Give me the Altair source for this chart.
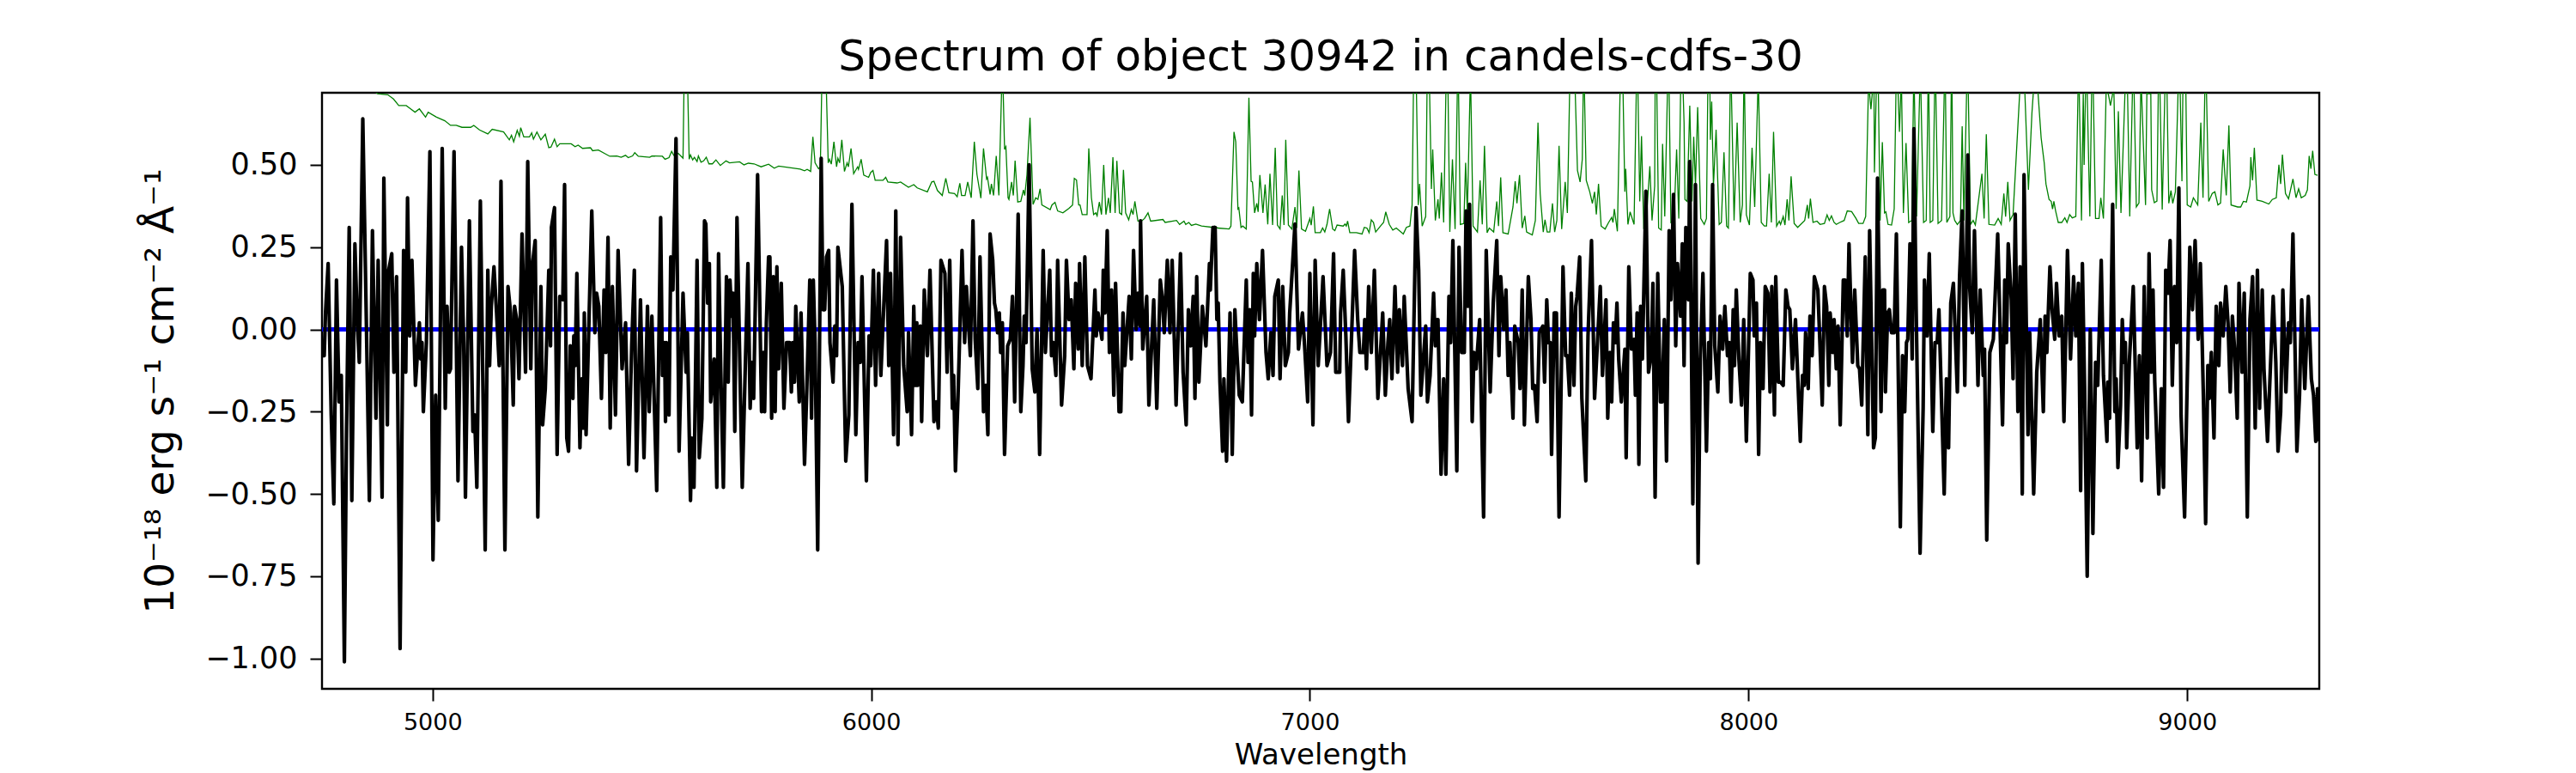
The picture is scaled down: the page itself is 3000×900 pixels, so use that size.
import altair as alt
import pandas as pd

# (wavelength in Angstrom, flux in 1e-18 erg/s/cm2/A)
black_points = [
(4748,-.08),(4753,-.08),(4756,.05),(4762,.20),(4769,-.26),(4775,-.53),(4781,.15),(4787,-.22),(4792,-.14),(4799,-1.01),(4804,-.30),(4810,.31),(4816,-.52),(4823,.26),(4828,.04),(4833,-.10),(4841,.64),(4849,.03),(4856,-.52),(4863,.30),(4871,-.27),(4876,.21),(4885,-.51),(4889,.46),(4897,-.29),(4900,.18),(4907,.23),(4912,-.13),(4918,.16),(4926,-.97),(4934,.24),(4939,-.13),(4943,.40),(4948,-.02),(4953,.21),(4961,-.17),(4970,.02),(4973,-.09),(4976,-.04),(4979,-.25),(4986,-.04),(4994,.54),(5001,-.70),(5007,-.20),(5013,-.58),(5022,.55),(5029,-.24),(5033,.07),(5038,-.13),(5041,-.12),(5049,.54),(5058,-.46),(5066,.25),(5071,-.04),(5075,-.51),(5084,.33),(5092,-.31),(5096,-.26),(5101,-.48),(5109,.39),(5120,-.67),(5126,.18),(5130,-.11),(5134,.07),(5140,.19),(5146,.05),(5152,-.11),(5156,.45),(5165,-.67),(5172,.13),(5178,.05),(5184,-.23),(5187,.07),(5193,.02),(5197,-.15),(5204,.29),(5212,-.13),(5217,.51),(5224,-.12),(5228,.20),(5234,.27),(5240,-.57),(5247,.13),(5251,-.29),(5257,-.18),
(5265,.18),(5269,-.05),(5271,.31),(5278,.37),(5284,-.38),(5290,.10),(5297,.09),(5301,.44),(5306,-.33),(5310,-.37),(5314,-.05),(5320,-.21),(5322,-.02),(5325,-.11),(5329,.17),(5336,-.36),(5340,-.15),(5344,-.30),(5346,.05),(5350,-.32),(5363,.36),(5370,-.01),(5374,.11),(5379,.07),(5385,-.21),(5391,.12),(5395,-.07),(5400,.28),(5405,-.30),(5410,.13),(5417,-.26),(5423,.24),(5432,-.12),(5440,.02),(5447,-.41),(5454,-.05),(5460,.18),(5465,-.43),(5474,.09),(5482,-.39),(5490,.07),(5494,-.25),(5500,.04),(5511,-.49),(5520,.34),(5524,-.14),(5529,-.04),(5531,-.28),(5533,-.04),(5539,-.26),(5543,.22),(5548,.12),(5555,.58),(5562,-.37),(5571,.11),(5578,-.13),(5581,-.01),(5588,-.52),(5591,-.33),(5596,-.48),(5603,.21),(5608,-.39),(5614,-.27),(5620,.33),(5623,.32),(5627,.08),(5631,.20),(5634,-.22),(5642,-.09),(5648,-.48),(5652,.23),(5657,-.12),(5663,-.48),(5670,.16),(5674,-.16),(5678,.15),(5682,.04),(5685,.11),(5689,-.31),(5694,.34),(5706,-.48),(5713,-.11),(5719,.20),(5724,-.24),(5728,-.10),(5732,-.21),(5741,.47),(5750,-.25),(5754,-.07),(5757,-.25),(5761,.02),(5766,.22),
(5769,.22),(5773,-.27),(5777,.16),(5781,-.25),(5785,.19),(5789,-.12),(5795,.14),(5801,-.24),(5807,-.04),(5814,-.04),(5818,-.19),(5821,-.04),(5825,-.16),(5828,.07),(5836,-.22),(5840,.05),(5848,-.41),(5853,-.19),(5860,.15),(5864,-.27),(5868,.15),(5872,-.04),(5878,-.67),(5886,.52),(5890,.06),(5894,.06),(5898,.22),(5903,.24),(5906,-.04),(5913,-.16),(5917,.01),(5921,-.08),(5924,.25),(5934,.13),(5942,-.40),(5949,-.26),(5956,.38),(5965,-.32),(5970,-.04),(5975,-.10),(5979,.16),(5989,-.46),(5995,-.02),(5999,-.11),(6005,.18),(6010,-.17),(6017,.17),(6022,-.14),(6028,.05),(6035,.27),(6040,-.11),(6044,.17),(6051,-.32),(6056,.36),(6061,-.35),(6067,.28),(6074,-.11),(6082,-.25),(6085,-.01),(6092,-.32),(6097,.07),(6101,-.17),(6104,.02),(6106,-.17),(6112,.01),(6115,-.28),(6121,.12),(6128,-.08),(6134,.18),(6143,-.28),(6148,-.22),(6153,-.30),(6159,.21),(6168,.17),(6173,-.13),(6179,.21),(6185,-.24),(6188,-.14),(6192,-.43),(6198,-.20),(6207,.24),(6213,-.04),(6217,.13),(6226,-.08),(6232,.33),(6237,-.03),(6243,-.18),(6248,.22),(6256,-.25),(6261,-.17),(6266,-.32),(6271,.29),
(6277,.21),(6281,.08),(6284,.06),(6288,-.01),(6292,.05),(6295,-.07),(6299,.02),(6304,-.38),(6311,-.05),(6317,-.03),(6322,.10),(6327,-.22),(6335,.35),(6341,-.25),(6346,-.11),(6349,.04),(6353,-.04),(6360,.50),(6367,-.12),(6373,-.19),(6378,0),(6384,-.38),(6392,.24),(6397,-.07),(6407,.18),(6411,-.08),(6415,-.04),(6421,-.14),(6425,.21),(6434,-.23),(6441,-.08),(6445,.21),(6451,.03),(6456,.09),(6462,-.12),(6466,.14),(6472,-.06),(6475,.20),(6481,-.11),(6487,.22),(6493,-.11),(6501,-.15),(6510,.12),(6513,-.02),(6517,.05),(6526,-.03),(6529,.18),(6533,.05),(6538,.30),(6543,-.07),(6548,.12),(6553,-.20),(6557,.14),(6565,-.25),(6569,-.25),(6574,.05),(6578,-.11),(6588,.10),(6593,-.09),(6598,.24),(6604,0),(6608,.11),(6613,.01),(6614,.33),(6619,-.06),(6628,.10),(6633,-.23),(6644,.09),(6651,-.24),(6659,.15),(6664,.09),(6668,-.01),(6675,.21),(6681,-.01),(6686,.21),(6695,-.23),(6705,.23),(6711,-.13),(6718,-.29),(6723,.06),(6728,-.05),(6734,.10),(6738,-.21),(6742,.16),(6747,-.16),(6755,.07),(6763,-.05),(6771,.20),(6773,.12),(6779,.31),(6784,.31),
(6788,.03),(6791,.08),(6795,-.16),(6801,-.37),(6804,-.15),(6810,-.40),(6818,.05),(6823,-.38),(6829,.06),(6834,-.08),(6839,-.20),(6846,-.22),(6855,.15),(6859,-.10),(6863,.06),(6867,-.26),(6871,.17),(6874,-.02),(6879,.20),(6885,.03),(6892,.24),(6900,-.07),(6905,-.15),(6911,-.01),(6916,-.14),(6920,.10),(6928,.15),(6932,-.15),(6938,.13),(6944,-.11),(6951,-.07),(6954,.05),(6966,.32),(6974,-.06),(6983,.05),(6988,-.05),(6995,-.22),(7000,.17),(7007,-.29),(7012,.21),(7019,-.11),(7030,.16),(7039,-.11),(7047,-.07),(7054,.23),(7059,-.13),(7068,-.13),(7070,.05),(7076,.18),(7082,-.02),(7088,-.28),(7102,.24),(7109,.03),(7114,-.07),(7122,-.07),(7125,.03),(7129,-.12),(7134,.13),(7140,-.07),(7147,.18),(7155,-.21),(7166,.05),(7172,-.20),(7178,-.04),(7182,.03),(7187,-.15),(7194,.13),(7200,-.13),(7204,.06),(7211,-.11),(7215,.10),(7224,-.18),(7233,-.28),(7242,.37),(7248,.18),(7253,-.20),(7264,.01),(7268,-.22),(7274,-.14),(7282,.11),(7286,-.05),(7290,.03),
(7292,.03),(7299,-.44),(7305,-.15),(7310,-.44),(7317,.10),(7321,-.04),(7326,.27),(7335,-.43),(7340,.25),(7346,-.07),(7352,-.07),(7356,.36),(7360,.07),(7364,.38),(7370,-.28),(7374,-.07),(7379,-.12),(7387,.03),(7396,-.57),(7402,.24),(7411,-.19),(7418,.08),(7426,.27),(7431,-.08),(7435,.16),(7442,0),(7447,.12),(7452,-.14),(7456,-.04),(7463,-.27),(7467,.01),(7475,-.04),(7479,-.18),(7484,.12),(7489,-.29),(7498,.16),(7504,.03),(7508,-.18),(7512,-.17),(7518,-.28),(7523,-.01),(7531,.01),(7535,-.16),(7540,.09),(7544,-.04),(7548,-.04),(7551,-.38),(7557,.05),(7562,.05),(7568,-.57),(7577,.19),(7583,-.08),(7587,-.08),(7592,-.20),(7596,.11),(7602,-.17),(7606,.07),(7609,.10),(7615,.22),(7620,-.21),(7629,-.46),(7634,-.02),(7642,.27),(7649,-.21),(7654,-.08),(7662,.13),(7667,-.14),(7675,.09),(7679,-.27),(7684,-.07),(7688,-.22),(7692,.02),(7696,-.04),(7700,.08),(7704,-.09),(7710,-.22),(7718,-.06),(7721,-.39),(7727,.19),(7733,-.06),(7739,-.03),(7742,-.20),(7746,.05),(7750,-.41),(7754,.07),(7758,-.09),(7766,.42),(7772,-.13),(7778,-.08),(7782,.14),(7787,-.51),(7793,.17),(7799,-.22),
(7803,-.22),(7808,.03),(7813,-.40),(7819,.30),(7823,.09),(7829,.41),(7834,-.05),(7838,.20),(7845,.04),(7849,.26),(7853,-.11),(7857,.31),(7863,.09),(7866,.51),(7873,-.53),(7879,.44),(7885,-.71),(7890,-.09),(7896,.17),(7904,-.37),(7909,-.04),(7913,-.15),(7918,.44),(7923,-.05),(7930,-.19),(7935,.04),(7941,-.06),(7946,.07),(7952,-.08),(7956,-.04),(7960,-.22),(7965,.06),(7968,-.11),(7972,.12),(7978,-.09),(7984,-.23),(7989,.03),(7995,-.34),(8004,.17),(8010,.15),(8013,-.02),(8018,.08),(8023,-.38),(8027,-.04),(8033,-.18),(8038,.13),(8044,.11),(8049,-.19),(8053,.13),(8059,-.26),(8062,.16),(8068,-.16),(8073,-.16),(8079,-.17),(8085,.12),(8090,.07),(8094,.06),(8100,-.12),(8107,.03),(8118,-.34),(8123,-.14),(8127,-.17),(8130,-.01),(8136,-.18),(8140,.04),(8145,-.08),(8150,.16),(8158,.12),(8168,-.23),(8173,.13),(8178,.07),(8183,-.17),(8186,.05),(8192,-.07),(8195,.03),(8200,-.12),(8204,.01),(8209,-.29),(8216,.15),(8220,.15),(8225,-.02),(8229,.26),(8237,-.10),(8242,.12),(8249,-.11),(8253,-.12),(8258,-.23),(8266,.22),(8272,-.32),(8276,.30),(8285,-.36),(8289,-.33),(8294,.46),(8302,-.25),(8306,.12),
(8310,.12),(8312,-.19),(8317,.05),(8321,.06),(8326,-.01),(8332,-.01),(8337,.29),(8346,-.60),(8351,-.08),(8356,-.25),(8360,-.04),(8363,-.03),(8368,.26),(8373,-.09),(8377,.61),(8382,.07),(8391,-.68),(8398,-.24),(8401,.15),(8407,-.02),(8412,.23),(8420,-.31),(8425,-.04),(8430,-.04),(8434,.06),(8446,-.50),(8451,-.15),(8456,-.36),(8461,.08),(8467,.14),(8476,-.19),(8481,.16),(8487,.36),(8493,-.17),(8500,.53),(8504,.13),(8510,-.01),(8515,.30),(8523,-.17),(8528,.12),(8535,-.14),(8538,-.06),(8543,-.64),(8550,-.07),(8558,-.03),(8568,.29),(8579,-.29),(8584,.15),(8588,-.04),(8592,.26),(8599,.09),(8603,-.15),(8608,.35),(8614,-.25),(8619,.19),(8624,-.50),(8628,.47),(8637,-.32),(8641,-.01),(8650,-.50),(8657,-.13),(8665,.03),(8672,-.25),(8676,.04),(8680,-.07),(8687,.19),(8692,.06),(8698,-.03),(8702,.14),(8708,-.02),(8714,.04),(8719,-.28),(8727,.24),(8734,-.09),(8741,.16),(8746,-.02),(8752,.14),(8757,-.49),(8761,.20),(8766,-.17),(8772,-.75),(8779,0),(8785,-.62),(8791,-.10),(8796,-.17),(8804,.21),(8809,-.14),(8817,-.34),
(8819,-.16),(8823,-.27),(8830,.38),(8835,-.25),(8838,-.15),(8842,-.42),(8848,-.23),(8852,.03),(8856,-.10),(8859,-.04),(8862,-.36),(8868,-.10),(8877,.13),(8886,-.36),(8891,-.08),(8896,-.46),(8902,.13),(8909,-.33),(8913,.23),(8918,-.13),(8922,.12),(8926,-.16),(8935,-.50),(8941,-.18),(8946,-.48),(8951,.18),(8956,.11),(8961,.27),(8966,-.17),(8971,.13),(8976,-.04),(8981,.43),(8986,-.26),(8994,-.57),(9006,.25),(9012,.06),(9018,.27),(9025,-.03),(9030,.20),(9037,-.21),(9042,-.59),(9047,-.11),(9050,-.21),(9055,-.07),(9061,-.33),(9066,.07),(9072,-.11),(9076,.08),(9082,-.02),(9088,.13),(9093,.02),(9098,-.19),(9103,.04),(9108,-.06),(9114,-.27),(9118,.14),(9125,-.13),(9130,.11),(9137,-.57),(9143,.03),(9149,.16),(9155,-.30),(9160,.18),(9165,-.24),(9171,.12),(9175,-.12),(9183,-.34),(9196,.10),(9202,-.10),(9207,-.37),(9213,-.25),(9218,.12),(9225,-.19),(9231,.02),(9235,-.04),(9241,.29),(9250,-.37),(9256,-.20),(9261,.09),(9268,-.18),(9276,.10),(9283,-.15),(9288,-.20),(9293,-.34),(9297,-.18),(9299,-.34),
]

# contamination / error trace, peaks leave the top of the plot
green_points = [
(4748,.85),(4813,.78),(4875,.716),(4898,.713),(4911,.70),(4923,.68),(4940,.68),(4950,.67),(4960,.66),(4970,.67),(4984,.645),(4990,.66),(5009,.645),(5028,.634),(5041,.62),(5054,.62),(5067,.614),(5087,.614),(5094,.62),(5107,.606),(5126,.594),(5136,.608),(5162,.60),(5175,.576),(5180,.59),(5185,.57),(5193,.605),(5198,.587),(5201,.613),(5208,.585),(5221,.585),(5226,.597),(5230,.578),(5238,.60),(5247,.576),(5257,.593),
(5265,.552),(5270,.554),(5278,.578),(5284,.555),(5290,.564),(5316,.564),(5325,.555),(5332,.56),(5342,.55),(5360,.552),(5365,.543),(5378,.545),(5404,.526),(5420,.527),(5430,.523),(5440,.529),(5446,.522),(5456,.527),(5461,.537),(5469,.526),(5495,.523),(5500,.527),(5524,.526),(5530,.517),(5539,.522),(5545,.541),(5550,.529),(5560,.535),(5571,.52),(5573,.716),(5575,.9),(5578,.9),(5582,.716),(5585,.517),(5588,.53),(5593,.515),(5597,.523),(5603,.51),(5606,.527),(5612,.508),(5618,.512),(5624,.523),(5630,.503),(5638,.503),(5646,.515),(5656,.498),(5669,.512),(5677,.506),(5700,.509),(5710,.50),(5720,.505),(5733,.503),(5749,.494),(5766,.502),
(5779,.49),(5789,.496),(5838,.487),(5848,.482),(5854,.486),(5862,.48),(5867,.585),(5872,.506),(5880,.488),(5884,.494),(5887,.716),(5890,.9),(5895,.9),(5898,.716),(5902,.506),(5905,.517),(5909,.502),(5915,.57),(5921,.494),(5924,.52),(5928,.506),(5933,.576),(5939,.48),(5945,.506),(5948,.494),(5954,.55),(5960,.473),(5969,.494),(5971,.486),(5977,.517),(5983,.469),(5994,.462),(5999,.477),(6004,.483),(6009,.453),(6027,.453),(6033,.462),(6038,.448),(6059,.445),(6067,.448),(6085,.432),(6097,.44),(6105,.43),(6128,.418),(6138,.448),(6143,.45),(6151,.422),(6162,.407),(6170,.459),(6177,.415),(6190,.413),(6196,.403),(6202,.444),(6206,.407),(6214,.407),(6220,.448),(6228,.40),(6235,.57),(6241,.471),(6250,.399),(6256,.55),(6263,.457),(6265,.462),(6271,.41),(6274,.442),
(6279,.407),(6285,.527),(6291,.407),(6297,.716),(6299,.9),(6300,.9),(6301,.716),(6304,.547),(6307,.555),(6312,.40),(6314,.395),(6320,.448),(6324,.407),(6328,.513),(6334,.387),(6341,.389),(6347,.424),(6350,.407),(6355,.469),(6362,.643),(6369,.38),(6375,.40),(6380,.395),(6385,.427),(6389,.378),(6408,.364),(6412,.378),(6419,.386),(6425,.36),(6437,.354),(6451,.368),(6459,.378),(6463,.459),(6468,.454),(6473,.378),(6476,.378),(6481,.349),(6492,.349),(6496,.55),(6502,.40),(6507,.349),(6512,.354),(6515,.345),(6520,.387),(6525,.349),(6530,.50),(6535,.349),(6541,.40),(6545,.354),(6551,.523),(6556,.354),(6560,.512),(6566,.354),(6571,.349),(6575,.485),(6580,.354),(6587,.333),(6593,.364),(6597,.349),(6601,.389),(6608,.329),(6616,.329),(6623,.337),(6631,.354),(6637,.329),(6665,.334),(6670,.325),(6696,.331),(6703,.319),(6713,.329),(6717,.319),(6724,.325),(6730,.316),(6740,.32),(6753,.314),(6779,.31),
(6783,.314),(6790,.308),(6816,.305),(6820,.314),(6827,.60),(6831,.57),(6836,.366),(6838,.369),(6843,.31),(6847,.314),(6855,.305),(6861,.704),(6866,.45),(6869,.448),(6874,.354),(6879,.383),(6882,.357),(6886,.469),(6893,.354),(6898,.44),(6904,.319),(6909,.473),(6915,.317),(6921,.552),(6926,.317),(6932,.305),(6937,.407),(6941,.317),(6945,.576),(6951,.317),(6959,.305),(6966,.372),(6970,.308),(6975,.483),(6981,.305),(6990,.298),(7000,.337),(7003,.317),(7008,.374),(7012,.294),(7024,.294),(7029,.308),(7034,.296),(7039,.319),(7045,.366),(7052,.305),(7057,.30),(7062,.317),(7076,.314),(7080,.32),(7083,.314),(7086,.329),(7091,.294),(7106,.294),(7119,.29),(7124,.31),(7130,.308),(7135,.294),(7140,.333),(7145,.325),(7150,.296),(7161,.314),(7168,.325),(7173,.357),(7181,.319),(7189,.302),(7197,.308),(7213,.29),(7220,.31),(7228,.314),(7233,.378),(7236,.716),(7238,.9),(7241,.9),(7243,.716),(7247,.378),(7250,.442),(7256,.314),(7264,.343),(7267,.716),(7269,.9),(7271,.9),(7273,.716),(7277,.427),(7280,.547),(7286,.331),(7292,.395),
(7295,.337),(7300,.477),(7305,.325),(7310,.716),(7312,.9),(7314,.9),(7315,.716),(7319,.296),(7325,.517),(7331,.305),(7336,.716),(7338,.9),(7339,.716),(7343,.319),(7351,.322),(7355,.506),(7359,.354),(7365,.716),(7366,.9),(7367,.716),(7372,.314),(7382,.296),(7388,.453),(7393,.319),(7398,.558),(7404,.294),(7409,.308),(7419,.296),(7426,.389),(7430,.314),(7435,.462),(7440,.294),(7452,.29),(7463,.372),(7468,.45),(7472,.383),(7478,.469),(7484,.308),(7490,.345),(7494,.296),(7507,.287),(7514,.331),(7520,.628),(7525,.413),(7532,.296),(7536,.333),(7541,.296),(7547,.296),(7553,.383),(7558,.296),(7563,.331),(7568,.558),(7574,.305),(7582,.448),(7587,.354),(7592,.716),(7598,.9),(7602,.9),(7605,.716),(7610,.483),(7616,.448),(7621,.517),(7623,.716),(7625,.9),(7626,.716),(7630,.453),(7638,.418),(7644,.383),(7649,.418),(7653,.349),(7658,.442),(7664,.314),(7673,.305),(7681,.325),(7688,.34),(7691,.325),(7694,.366),(7701,.298),(7707,.716),(7710,.9),(7712,.9),(7714,.716),(7718,.418),(7720,.488),(7725,.319),(7730,.357),(7739,.319),(7744,.716),(7746,.9),(7748,.716),(7752,.389),(7756,.587),(7761,.305),(7768,.354),(7775,.496),(7780,.331),(7786,.436),(7787,.716),(7789,.9),(7791,.716),(7795,.308),(7801,.302),
(7804,.564),(7809,.343),(7815,.716),(7817,.9),(7819,.716),(7823,.325),(7830,.331),(7836,.547),(7841,.337),(7845,.716),(7847,.9),(7851,.716),(7853,.628),(7855,.395),(7860,.389),(7866,.68),(7871,.389),(7875,.585),(7879,.436),(7884,.675),(7891,.337),(7899,.319),(7904,.337),(7907,.716),(7908,.9),(7912,.716),(7913,.576),(7916,.692),(7920,.436),(7926,.607),(7933,.319),(7938,.325),(7944,.538),(7950,.314),(7954,.308),(7958,.716),(7960,.9),(7961,.716),(7967,.331),(7974,.628),(7981,.325),(7986,.378),(7989,.716),(7990,.9),(7991,.716),(7995,.348),(8002,.317),(8008,.552),(8014,.372),(8021,.716),(8022,.9),(8023,.716),(8029,.325),(8036,.314),(8041,.314),(8047,.473),(8052,.325),(8057,.60),(8064,.314),(8070,.329),(8073,.319),(8079,.343),(8083,.317),(8088,.395),(8092,.331),(8097,.465),(8104,.322),(8112,.31),(8128,.331),(8134,.378),(8137,.337),(8141,.397),(8147,.325),(8156,.329),(8163,.319),(8173,.322),(8179,.348),(8184,.331),(8189,.345),(8195,.325),(8200,.319),(8208,.325),(8218,.331),(8225,.36),(8235,.358),(8245,.337),(8251,.322),(8261,.322),(8267,.343),(8273,.716),(8275,.9),(8276,.716),(8279,.669),(8282,.716),(8284,.9),(8286,.716),(8287,.477),(8291,.716),(8293,.9),(8296,.716),(8300,.331),(8305,.569),(8310,.354),
(8313,.357),(8318,.319),(8326,.317),(8332,.366),(8336,.716),(8338,.9),(8341,.716),(8344,.60),(8347,.716),(8348,.9),(8349,.716),(8353,.354),(8359,.566),(8365,.325),(8372,.331),(8376,.716),(8377,.9),(8378,.716),(8383,.343),(8390,.716),(8392,.9),(8393,.716),(8399,.325),(8405,.331),(8409,.716),(8410,.9),(8411,.716),(8414,.325),(8420,.331),(8424,.716),(8425,.9),(8427,.716),(8432,.322),(8440,.331),(8446,.716),(8448,.9),(8449,.716),(8452,.325),(8459,.343),(8462,.716),(8463,.9),(8464,.716),(8466,.354),(8470,.331),(8476,.319),(8483,.331),(8487,.617),(8491,.331),(8497,.716),(8499,.9),(8501,.716),(8506,.319),(8512,.331),(8517,.317),(8532,.473),(8537,.337),(8542,.593),(8548,.319),(8561,.317),(8569,.337),(8576,.319),(8582,.413),(8586,.343),(8591,.448),(8596,.331),(8603,.349),(8618,.716),(8625,.9),(8628,.9),(8630,.716),(8638,.424),(8646,.657),(8649,.716),(8652,.9),(8657,.9),(8660,.716),(8667,.582),(8674,.506),(8678,.442),(8685,.395),(8690,.389),(8693,.366),(8696,.389),(8700,.36),(8706,.325),(8714,.325),(8721,.339),(8726,.325),(8732,.349),(8738,.339),(8746,.343),(8751,.716),(8753,.9),(8754,.716),(8759,.331),(8763,.716),(8765,.50),(8768,.716),(8770,.9),(8772,.716),(8778,.343),(8782,.716),(8784,.9),(8786,.716),(8791,.337),(8799,.337),(8803,.40),(8809,.337),
(8815,.716),(8817,.9),(8820,.716),(8825,.68),(8830,.716),(8832,.9),(8833,.716),(8838,.366),(8843,.663),(8849,.354),(8858,.716),(8860,.9),(8864,.716),(8869,.343),(8875,.716),(8877,.9),(8879,.716),(8884,.372),(8890,.384),(8894,.716),(8895,.9),(8896,.716),(8905,.378),(8908,.716),(8909,.9),(8910,.716),(8917,.716),(8919,.424),(8925,.385),(8931,.39),(8934,.716),(8935,.9),(8938,.716),(8943,.364),(8949,.716),(8950,.9),(8954,.716),(8958,.383),(8963,.422),(8967,.383),(8973,.418),(8979,.716),(8981,.9),(8984,.716),(8988,.45),(8990,.716),(8993,.9),(8997,.716),(9000,.378),(9008,.372),(9014,.40),(9019,.389),(9024,.378),(9031,.628),(9036,.40),(9040,.716),(9042,.9),(9044,.716),(9049,.389),(9057,.413),(9063,.418),(9070,.378),(9076,.384),(9082,.547),(9089,.407),(9095,.62),(9100,.378),(9115,.372),(9122,.372),(9128,.389),(9135,.387),(9143,.436),(9145,.523),(9149,.453),(9153,.552),(9159,.393),(9171,.389),(9186,.381),(9194,.395),(9203,.40),(9209,.50),(9213,.442),(9217,.531),(9224,.413),(9231,.397),(9241,.457),(9248,.40),(9254,.427),(9260,.40),(9269,.407),(9274,.424),(9278,.527),(9282,.488),(9286,.543),(9291,.471),(9297,.468),
]

zero_line_wave = [4748, 9301]
zero_line_flux = [0, 0]

x_ticks = [5000, 6000, 7000, 8000, 9000]
y_ticks = [-1.0, -0.75, -0.5, -0.25, 0.0, 0.25, 0.5]
x_domain = [4748, 9301]
y_domain = [-1.092, 0.719]

FONT = "DejaVu Sans"
black_df = pd.DataFrame(black_points, columns=["wave", "flux"])
green_df = pd.DataFrame(green_points, columns=["wave", "flux"])
zero_df = pd.DataFrame({"wave": zero_line_wave, "flux": zero_line_flux})

x = alt.X(
    "wave:Q",
    scale=alt.Scale(domain=x_domain, nice=False, zero=False),
    axis=alt.Axis(
        values=x_ticks, grid=False, domain=False, title="Wavelength", format="d",
        labelFont=FONT, labelFontSize=27, labelColor="black", labelPadding=12,
        tickSize=14, tickWidth=2, tickColor="black",
        titleFont=FONT, titleFontSize=34, titleFontWeight="normal", titleColor="black", titlePadding=8,
    ),
)
y = alt.Y(
    "flux:Q",
    scale=alt.Scale(domain=y_domain, nice=False, zero=False),
    axis=alt.Axis(
        values=y_ticks, grid=False, domain=False, format=".2f",
        title="10\u207b\u00b9\u2078 erg s\u207b\u00b9 cm\u207b\u00b2 \u00c5\u207b\u00b9",
        labelFont=FONT, labelFontSize=35, labelColor="black", labelPadding=15,
        tickSize=14, tickWidth=2, tickColor="black",
        titleFont=FONT, titleFontSize=47, titleFontWeight="normal", titleColor="black", titlePadding=27,
    ),
)

green = alt.Chart(green_df).mark_line(color="#008000", strokeWidth=1.3, clip=True).encode(x=x, y=y)
blue = alt.Chart(zero_df).mark_line(color="#0000ff", strokeWidth=5, clip=True).encode(x=x, y=y)
black = alt.Chart(black_df).mark_line(color="black", strokeWidth=4.2, strokeJoin="round", clip=True).encode(x=x, y=y)

chart = (
    alt.layer(green, blue, black)
    .properties(
        width=2326,
        height=694,
        background="white",
        padding={"left": 367, "top": 100, "right": 10, "bottom": 100},
        autosize=alt.AutoSizeParams(type="none"),
        title=alt.TitleParams(
            "Spectrum of object 30942 in candels-cdfs-30",
            font=FONT, fontSize=50, fontWeight="normal", color="black",
            anchor="middle", offset=16,
        ),
    )
    .configure_view(stroke="black", strokeWidth=2.4)
)

chart.save("out.html", embed_options={"renderer": "svg", "actions": False})
